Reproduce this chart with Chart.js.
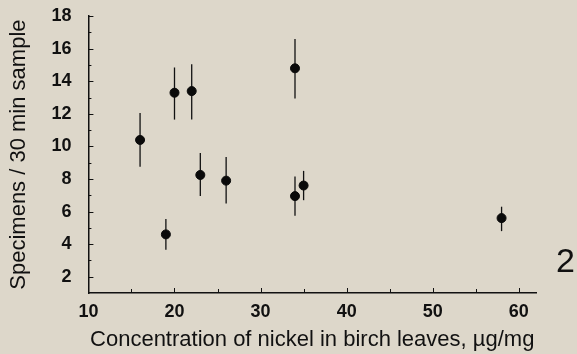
<!DOCTYPE html>
<html>
<head>
<meta charset="utf-8">
<script src="https://cdn.jsdelivr.net/npm/chart.js@4.4.0/dist/chart.umd.min.js"></script>
<style>
  html, body { margin: 0; padding: 0; background: #ddd7ca; }
  #wrap { position: relative; width: 577px; height: 354px; }
  #fig { position: absolute; left: 556px; top: 241px; font: 34px "Liberation Sans", Arial, sans-serif; color: #111; line-height: 38px; }
</style>
</head>
<body>
<div id="wrap">
  <canvas id="chart" width="577" height="354"></canvas>
  <span id="fig">2</span>
</div>
<script>
// nickel concentration (µg/mg) and specimens per 30 min sample
const nickel   = [16, 19, 20, 22, 23, 26, 34, 34, 35, 58];
const specimens = [10.4, 4.6, 13.3, 13.4, 8.25, 7.9, 14.8, 6.95, 7.6, 5.6];
const errLow   = [8.75, 3.65, 11.65, 11.65, 6.95, 6.5, 12.95, 5.75, 6.7, 4.8];
const errHigh  = [12.05, 5.55, 14.85, 15.05, 9.6, 9.35, 16.6, 8.15, 8.5, 6.3];

const xTicks = [10, 15, 20, 25, 30, 35, 40, 45, 50, 55, 60];
const yTicks = [2, 3, 4, 5, 6, 7, 8, 9, 10, 11, 12, 13, 14, 15, 16, 17, 18];

const points = nickel.map((x, i) => ({ x: x, y: specimens[i], lo: errLow[i], hi: errHigh[i] }));

// error bars behind the dots
const errorBars = {
    id: 'errorBars',
    beforeDatasetsDraw(chart) {
        const ctx = chart.ctx;
        const xs = chart.scales.x, ys = chart.scales.y;
        ctx.save();
        ctx.strokeStyle = '#111';
        ctx.lineWidth = 1.3;
        points.forEach(p => {
            const px = xs.getPixelForValue(p.x);
            ctx.beginPath();
            ctx.moveTo(px, ys.getPixelForValue(p.lo));
            ctx.lineTo(px, ys.getPixelForValue(p.hi));
            ctx.stroke();
        });
        ctx.restore();
    }
};

// tick marks pointing into the plot
const innerTicks = {
    id: 'innerTicks',
    afterDraw(chart) {
        const ctx = chart.ctx;
        const xs = chart.scales.x, ys = chart.scales.y;
        const a = chart.chartArea;
        ctx.save();
        ctx.strokeStyle = '#111';
        ctx.lineWidth = 1;
        ctx.beginPath();
        xTicks.forEach(v => {
            const px = Math.round(xs.getPixelForValue(v)) + 0.5;
            const len = v % 10 === 0 ? 5 : 4;
            ctx.moveTo(px, a.bottom);
            ctx.lineTo(px, a.bottom - len);
        });
        yTicks.forEach(v => {
            const py = Math.round(ys.getPixelForValue(v)) + 0.5;
            const len = v % 2 === 0 ? 5 : 3;
            ctx.moveTo(a.left, py);
            ctx.lineTo(a.left + len, py);
        });
        ctx.stroke();
        ctx.restore();
    }
};

const font = "'Liberation Sans', Arial, sans-serif";

new Chart(document.getElementById('chart'), {
    type: 'scatter',
    data: {
        datasets: [{
            data: points,
            backgroundColor: '#0a0a0a',
            borderColor: '#0a0a0a',
            pointRadius: 4.5,
            pointHoverRadius: 4.5
        }]
    },
    options: {
        responsive: false,
        animation: false,
        layout: { padding: { top: 0, right: 41, bottom: 1, left: 6 } },
        plugins: {
            legend: { display: false },
            tooltip: { enabled: false }
        },
        scales: {
            x: {
                type: 'linear',
                min: 10,
                max: 62,
                afterBuildTicks: s => { s.ticks = xTicks.filter(v => v % 10 === 0).map(v => ({ value: v })); },
                grid: { display: false },
                border: { display: true, color: '#111', width: 1.5 },
                ticks: { color: '#111', font: { family: font, size: 18, weight: 'bold' }, padding: 0, maxRotation: 0 },
                title: {
                    display: true,
                    text: 'Concentration of nickel in birch leaves, µg/mg',
                    color: '#111',
                    font: { family: font, size: 22 },
                    padding: { top: 4, bottom: 0 }
                }
            },
            y: {
                type: 'linear',
                min: 1,
                max: 18,
                afterBuildTicks: s => { s.ticks = yTicks.filter(v => v % 2 === 0).map(v => ({ value: v })); },
                grid: { display: false },
                border: { display: true, color: '#111', width: 1.5 },
                ticks: { color: '#111', font: { family: font, size: 18, weight: 'bold', lineHeight: 0.8 }, padding: 9 },
                title: {
                    display: true,
                    text: 'Specimens / 30 min sample',
                    color: '#111',
                    font: { family: font, size: 22 },
                    padding: { top: 0, bottom: 10 }
                }
            }
        }
    },
    plugins: [errorBars, innerTicks]
});
</script>
</body>
</html>
